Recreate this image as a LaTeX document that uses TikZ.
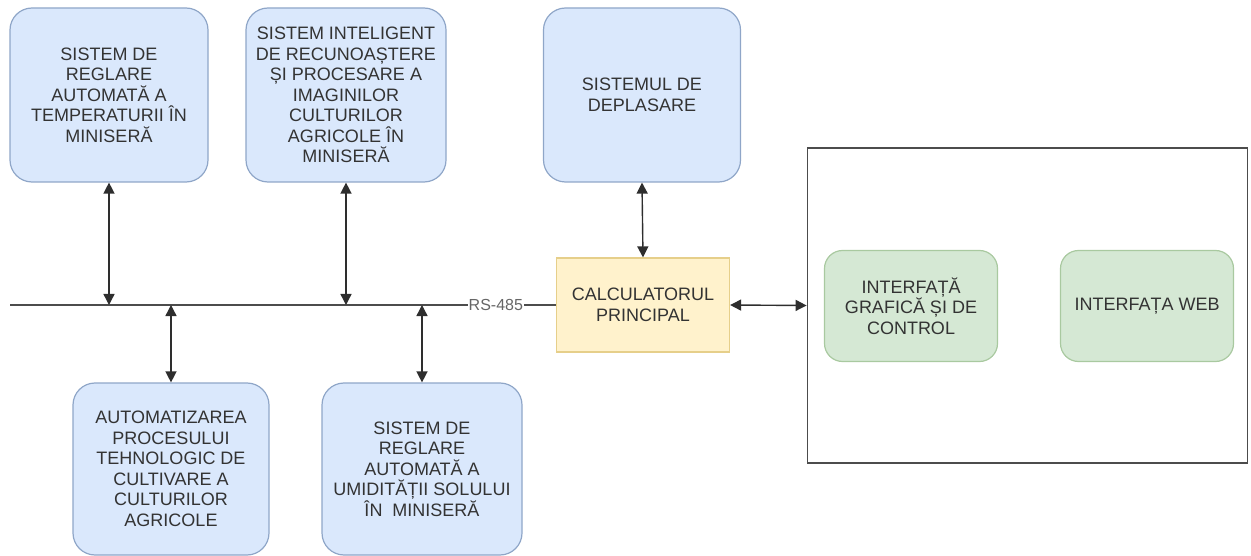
\documentclass[tikz,border=0pt]{standalone}
\usepackage{fontspec}
\setmainfont{Liberation Sans}
\usetikzlibrary{arrows.meta}
\definecolor{bluefill}{HTML}{DAE8FC}
\definecolor{bluedraw}{HTML}{8FA6C8}
\definecolor{yellowfill}{HTML}{FFF2CC}
\definecolor{yellowdraw}{HTML}{E6CF8A}
\definecolor{greenfill}{HTML}{D5E8D4}
\definecolor{greendraw}{HTML}{A9C9A0}
\definecolor{txt}{HTML}{333333}
\definecolor{linec}{HTML}{2E2E2E}
\tikzset{
  base/.style={inner sep=0pt, align=center, text=txt,
    font=\fontsize{18}{20.5}\selectfont},
  bluebox/.style={base, draw=bluedraw, fill=bluefill, line width=1.2pt,
    rounded corners=22pt},
  calcbox/.style={base, draw=yellowdraw, fill=yellowfill, line width=1.2pt},
  greenbox/.style={base, draw=greendraw, fill=greenfill, line width=1.2pt,
    rounded corners=18pt, minimum width=173pt, minimum height=111pt},
  frame/.style={draw=black!70, line width=1.8pt},
  conn/.style={linec, line width=1.4pt,
    {Triangle[length=11pt,width=11pt]}-{Triangle[length=11pt,width=11pt]}},
  bus/.style={black!70, line width=1.5pt}
}
\begin{document}
\begin{tikzpicture}[x=1pt,y=-1pt]
\useasboundingbox (0,0) rectangle (1251,556);
% top boxes
\node[bluebox, minimum width=198pt, minimum height=174pt] (b1) at (109,95)
  {SISTEM DE\\REGLARE\\AUTOMATĂ A\\TEMPERATURII ÎN\\MINISERĂ};
\node[bluebox, minimum width=200pt, minimum height=174pt] (b2) at (346,95)
  {SISTEM INTELIGENT\\DE RECUNOAȘTERE\\ȘI PROCESARE A\\IMAGINILOR\\CULTURILOR\\AGRICOLE ÎN\\MINISERĂ};
\node[bluebox, minimum width=197pt, minimum height=174pt] (b3) at (642,95)
  {SISTEMUL DE\\DEPLASARE};
% calculator
\node[calcbox, minimum width=173pt, minimum height=94pt] (calc) at (643,305)
  {CALCULATORUL\\PRINCIPAL};
% big frame
\node[frame, minimum width=440pt, minimum height=315pt, inner sep=0pt] (big) at (1027.5,305.5) {};
\node[greenbox] (g1) at (911,306) {INTERFAȚĂ\\GRAFICĂ ȘI DE\\CONTROL};
\node[greenbox] (g2) at (1147,306) {INTERFAȚA WEB};
% bottom boxes
\node[bluebox, minimum width=196pt, minimum height=172pt] (b4) at (171,469)
  {AUTOMATIZAREA\\PROCESULUI\\TEHNOLOGIC DE\\CULTIVARE A\\CULTURILOR\\AGRICOLE};
\node[bluebox, minimum width=200pt, minimum height=172pt] (b5) at (422,469)
  {SISTEM DE\\REGLARE\\AUTOMATĂ A\\UMIDITĂȚII SOLULUI\\ÎN\ \ MINISERĂ};
% bus
\coordinate (busL) at (10,305);
\coordinate (p1) at (109,305);
\coordinate (p2) at (346,305);
\coordinate (p4) at (171,305);
\coordinate (p5) at (422,305);
\draw[bus] (busL) -- node[pos=0.89, fill=white, inner sep=1pt, text=black!60,
  font=\fontsize{16}{18}\selectfont] (rs) {RS-485} (calc.west);
% connectors
\draw[conn] (b1.south) -- (p1);
\draw[conn] (b2.south) -- (p2);
\draw[conn] (p4) -- (b4.north);
\draw[conn] (p5) -- (b5.north);
\draw[conn] (b3.south) -- (calc.north);
\draw[conn] (calc.east) -- (big.west);
\end{tikzpicture}
\end{document}
